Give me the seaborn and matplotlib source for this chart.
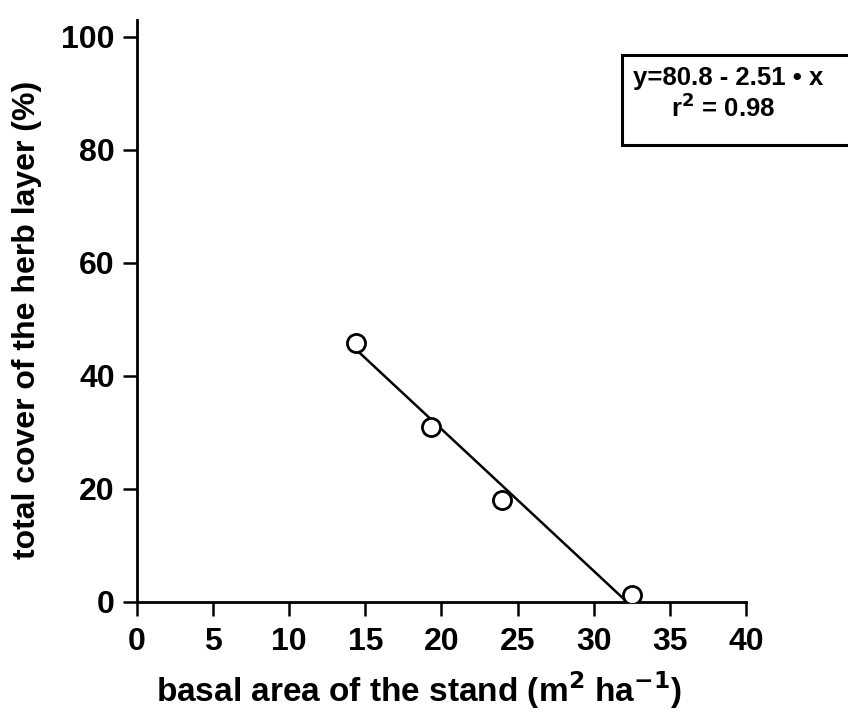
import matplotlib
matplotlib.use("Agg")
import matplotlib.pyplot as plt
from matplotlib.patches import Rectangle
import numpy as np
import pandas as pd
import seaborn as sns

# Observed stands
basal_area = [14.4, 19.3, 24.0, 32.5]
herb_cover = [45.8, 31.0, 18.0, 1.2]

# Fitted regression
intercept = 80.8
slope = -2.51
r_squared = 0.98

x_ticks = [0, 5, 10, 15, 20, 25, 30, 35, 40]
y_ticks = [0, 20, 40, 60, 80, 100]

sns.set_style("ticks")
plt.rcParams["font.family"] = ["Liberation Sans", "DejaVu Sans"]
plt.rcParams["text.color"] = "black"
plt.rcParams["axes.labelcolor"] = "black"

fig = plt.figure(figsize=(8.48, 7.17), dpi=100)
ax = fig.add_axes([0.1616, 0.1604, 0.718, 0.8117])

pts = pd.DataFrame({"basal": basal_area, "cover": herb_cover})
x_fit = np.array([min(basal_area) + 0.1, -intercept / slope])
fit = pd.DataFrame({"basal": x_fit, "cover": intercept + slope * x_fit})

sns.lineplot(data=fit, x="basal", y="cover", ax=ax, color="black", linewidth=1.8)
sns.scatterplot(data=pts, x="basal", y="cover", ax=ax, s=170, marker="o",
                facecolor="white", edgecolor="black", linewidth=2.0, zorder=5)

ax.set_xlim(0, 40)
ax.set_ylim(0, 103)
ax.set_xticks(x_ticks)
ax.set_yticks(y_ticks)
ax.set_xticklabels([str(t) for t in x_ticks], fontsize=23, fontweight="bold")
ax.set_yticklabels([str(t) for t in y_ticks], fontsize=23, fontweight="bold")
ax.tick_params(axis="both", direction="out", length=10, width=1.8, colors="black")
ax.tick_params(axis="x", pad=8)
ax.tick_params(axis="y", pad=6)
for side in ["left", "bottom"]:
    ax.spines[side].set_linewidth(2.0)
    ax.spines[side].set_color("black")
sns.despine(ax=ax)

ax.set_xlabel("basal area of the stand (m$^\\mathbf{2}$ ha$^\\mathbf{-1}$)",
              fontsize=24, fontweight="bold")
ax.set_ylabel("total cover of the herb layer (%)", fontsize=23,
              fontweight="bold")
ax.xaxis.set_label_coords((419 - 137) / 609, -(690 - 602) / 582)
ax.yaxis.set_label_coords(-(137 - 27) / 609, (602 - 320) / 582)
ax.xaxis.label.set_va("center")
ax.yaxis.label.set_va("center")

# Equation box in the upper right corner
fig.patches.append(Rectangle((622 / 848, 1 - 145 / 717), 0.3, 90 / 717,
                             transform=fig.transFigure, facecolor="white",
                             edgecolor="black", linewidth=2.2, clip_on=False))
fig.text(633 / 848, 1 - 78 / 717, "y=80.8 - 2.51 \u2022 x", fontsize=18.5,
         fontweight="bold", va="center", ha="left")
fig.text(671 / 848, 1 - 108 / 717, f"r$^\\mathbf{{2}}$ = {r_squared:.2f}",
         fontsize=18.5, fontweight="bold", va="center", ha="left")

fig.savefig("out.png", dpi=100)
